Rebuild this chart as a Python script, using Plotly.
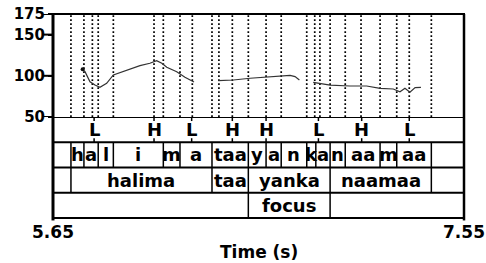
import plotly.graph_objects as go

# ---------------- data ----------------
T_MIN, T_MAX = 5.65, 7.55
Y_TICKS = [50, 100, 150, 175]
X_TICKS = [5.65, 7.55]
X_TICK_LABELS = ["5.65", "7.55"]

# pitch contour (time s, F0 Hz), three voiced stretches
pitch1_t = [5.787, 5.798, 5.821, 5.844, 5.867, 5.898, 5.929, 5.960, 6.006, 6.052, 6.098, 6.129, 6.153, 6.176, 6.222, 6.260, 6.302]
pitch1_f = [107.9, 105.0, 92.8, 88.8, 86.0, 90.9, 101.0, 103.8, 107.9, 112.3, 115.2, 118.3, 115.2, 110.3, 105.0, 98.2, 92.5]
pitch2_t = [6.414, 6.484, 6.561, 6.638, 6.715, 6.746, 6.769, 6.789]
pitch2_f = [94.1, 94.9, 97.0, 98.2, 99.5, 100.5, 99.0, 95.0]
pitch3_t = [6.853, 6.931, 7.023, 7.100, 7.162, 7.223, 7.254, 7.277, 7.300, 7.324, 7.351]
pitch3_f = [92.1, 88.8, 87.6, 87.6, 84.8, 84.0, 80.7, 84.8, 80.0, 85.6, 86.0]

# dotted vertical landmark lines
landmarks = [5.733, 5.793, 5.832, 5.859, 5.929, 6.117, 6.160, 6.237, 6.294, 6.385, 6.417,
             6.479, 6.553, 6.635, 6.705, 6.823, 6.860, 6.884, 6.931, 7.001, 7.074, 7.162,
             7.239, 7.297, 7.399]

# tone tier
tone_times = [5.840, 6.117, 6.291, 6.479, 6.635, 6.877, 7.077, 7.297]
tone_labels = ["L", "H", "L", "H", "H", "L", "H", "L"]

# segment tier (boundaries and labels)
seg_bounds = [5.733, 5.793, 5.859, 5.929, 6.160, 6.237, 6.385, 6.553, 6.635, 6.705, 6.823, 6.865, 6.931, 7.001, 7.162, 7.239, 7.399]
seg_labels = ["h", "a", "l", "i", "m", "a", "taa", "y", "a", "n", "k", "a", "n", "aa", "m", "aa"]

# word tier
word_bounds = [5.733, 6.385, 6.553, 6.931, 7.399]
word_labels = ["halima", "taa", "yanka", "naamaa"]

# focus tier
focus_bounds = [6.553, 6.931]
focus_labels = ["focus"]

# ---------------- figure ----------------
FONT = "DejaVu Sans"
fig = go.Figure()

# dotted landmark lines
dx, dy = [], []
for t in landmarks:
    dx += [t, t, None]
    dy += [Y_TICKS[0], Y_TICKS[-1], None]
fig.add_trace(go.Scatter(x=dx, y=dy, mode="lines", xaxis="x", yaxis="y",
                         line=dict(color="#000", width=1.7, dash="1.7px,2.3px"),
                         hoverinfo="skip", showlegend=False))

for tt, ff in [(pitch1_t, pitch1_f), (pitch2_t, pitch2_f), (pitch3_t, pitch3_f)]:
    fig.add_trace(go.Scatter(x=tt, y=ff, mode="lines", xaxis="x", yaxis="y",
                             line=dict(color="#333", width=1.2), showlegend=False))
fig.add_trace(go.Scatter(x=[pitch1_t[0]], y=[pitch1_f[0]], mode="markers", xaxis="x", yaxis="y",
                         marker=dict(color="#111", size=4), showlegend=False))

shapes = []
annos = []
TF = dict(family=FONT, size=18, color="black", weight="bold")

# tier horizontal separators (including top of tone tier)
for lvl in [1, 2, 3, 4]:
    shapes.append(dict(type="line", xref="paper", yref="y2", x0=0, x1=1, y0=lvl, y1=lvl,
                       line=dict(color="black", width=2)))


def tier(bounds, labels, lvl):
    for b in bounds:
        shapes.append(dict(type="line", xref="x", yref="y2", x0=b, x1=b, y0=lvl, y1=lvl + 1,
                           line=dict(color="black", width=1.5)))
    for i, lab in enumerate(labels):
        annos.append(dict(x=(bounds[i] + bounds[i + 1]) / 2, y=lvl + 0.5, xref="x", yref="y2",
                          text=lab, showarrow=False, font=TF, xanchor="center", yanchor="middle"))


tier(seg_bounds, seg_labels, 2)
tier(word_bounds, word_labels, 1)
tier(focus_bounds, focus_labels, 0)

# tone tier marks
for t, lab in zip(tone_times, tone_labels):
    shapes.append(dict(type="line", xref="x", yref="y2", x0=t, x1=t, y0=4, y1=3.84,
                       line=dict(color="black", width=1.5)))
    shapes.append(dict(type="line", xref="x", yref="y2", x0=t, x1=t, y0=3, y1=3.16,
                       line=dict(color="black", width=1.5)))
    annos.append(dict(x=t, y=3.52, xref="x", yref="y2", text=lab, showarrow=False, font=TF,
                      xanchor="center", yanchor="middle"))

# y tick marks (longer than plotly's own)
for v in Y_TICKS:
    shapes.append(dict(type="line", xref="paper", yref="y", x0=-0.024, x1=0, y0=v, y1=v,
                       line=dict(color="black", width=2)))

# outer box
shapes.append(dict(type="rect", xref="paper", yref="paper", x0=0, x1=1, y0=0, y1=1,
                   line=dict(color="black", width=2)))
shapes.append(dict(type="line", xref="paper", yref="paper", x0=0, x1=0, y0=-0.012, y1=1,
                   line=dict(color="black", width=3)))
shapes.append(dict(type="line", xref="paper", yref="paper", x0=1, x1=1, y0=-0.012, y1=1,
                   line=dict(color="black", width=2.5)))

annos.append(dict(x=0.5, y=-0.165, xref="paper", yref="paper", text="Time (s)", showarrow=False,
                  font=dict(family=FONT, size=17, color="black", weight="bold"),
                  xanchor="center", yanchor="middle"))

PITCH_BOTTOM = 101 / 204
fig.update_layout(
    width=486, height=263,
    margin=dict(l=53, r=22, t=14, b=45, autoexpand=False),
    paper_bgcolor="white", plot_bgcolor="white",
    showlegend=False,
    xaxis=dict(range=[T_MIN, T_MAX], tickvals=X_TICKS, ticktext=X_TICK_LABELS,
               anchor="y2", showgrid=False, zeroline=False, showline=False, automargin=False,
               ticks="", ticklabelstandoff=2,
               tickfont=dict(family=FONT, size=17, color="black", weight="bold")),
    yaxis=dict(domain=[PITCH_BOTTOM, 1], range=[50, 175], tickvals=Y_TICKS, automargin=False,
               ticks="outside", ticklen=4, tickwidth=2, tickcolor="black",
               showgrid=False, zeroline=False, showline=False,
               tickfont=dict(family=FONT, size=15, color="black", weight="bold")),
    yaxis2=dict(domain=[0, PITCH_BOTTOM], range=[0, 4], visible=False, anchor="x"),
    shapes=shapes,
    annotations=annos,
)

fig.write_html("out.html", config={"displayModeBar": False},
               post_script="document.body.style.margin='0px';")
